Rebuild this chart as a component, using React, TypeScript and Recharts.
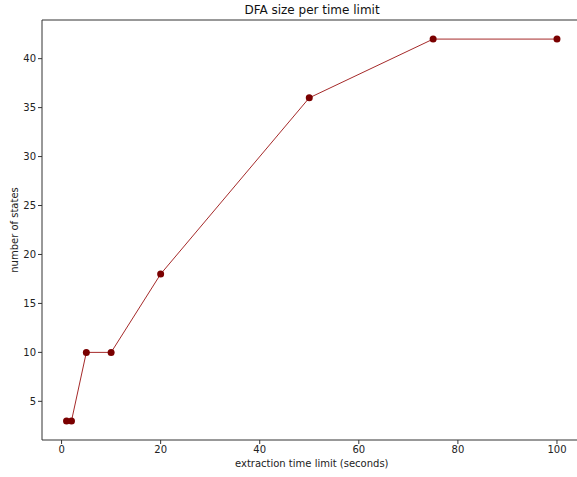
import { LineChart, Line, XAxis, YAxis, ReferenceLine } from 'recharts'

// extraction time limit (seconds) and resulting DFA size
const timeLimits = [1, 2, 5, 10, 20, 50, 75, 100]
const stateCounts = [3, 3, 10, 10, 18, 36, 42, 42]

const xTicks = [0, 20, 40, 60, 80, 100]
const yTicks = [5, 10, 15, 20, 25, 30, 35, 40]

const data = timeLimits.map((t, i) => ({ t, states: stateCounts[i] }))

const font = '"DejaVu Sans", sans-serif'
const axisColor = '#333'
const tickStyle = { fontSize: 10, fill: '#222', fontFamily: font }

export default function App() {
  return (
    <div style={{ position: 'absolute', left: 0, top: 0, width: 577, height: 477, overflow: 'hidden', background: '#fff' }}>
      <div
        style={{
          position: 'absolute',
          top: 3,
          left: 42,
          width: 540,
          textAlign: 'center',
          fontFamily: font,
          fontSize: 12,
          color: '#111'
        }}
      >
        DFA size per time limit
      </div>
      <LineChart width={600} height={477} data={data} margin={{ top: 20, right: 18.5, bottom: 0, left: 0 }}>
        <XAxis
          dataKey="t"
          type="number"
          domain={[-3.95, 104.95]}
          ticks={xTicks}
          height={37}
          stroke={axisColor}
          tickSize={4}
          tick={tickStyle}
          tickLine={{ stroke: axisColor }}
          label={{ value: 'extraction time limit (seconds)', position: 'insideBottom', offset: 10, style: { fontSize: 10, fill: '#222', fontFamily: font } }}
        />
        <YAxis
          type="number"
          domain={[1.05, 43.95]}
          ticks={yTicks}
          width={42}
          stroke={axisColor}
          tickSize={4}
          tick={tickStyle}
          tickLine={{ stroke: axisColor }}
          label={{ value: 'number of states', angle: -90, position: 'insideLeft', offset: 14, style: { fontSize: 10, fill: '#222', fontFamily: font, textAnchor: 'middle' } }}
        />
        <ReferenceLine y={43.95} stroke={axisColor} />
        <Line
          dataKey="states"
          type="linear"
          stroke="#a52a2a"
          strokeWidth={1}
          dot={{ r: 3.5, fill: '#7a0000', stroke: '#7a0000', strokeWidth: 0 }}
          activeDot={false}
          isAnimationActive={false}
        />
      </LineChart>
    </div>
  )
}
